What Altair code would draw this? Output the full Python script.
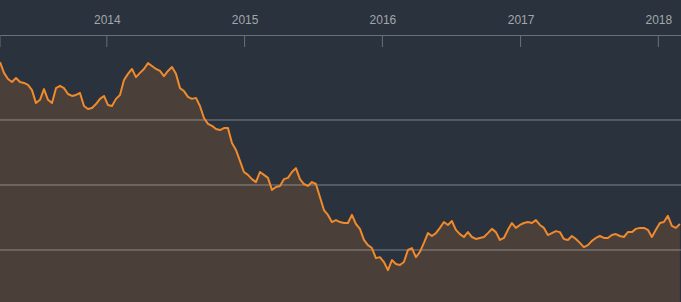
import altair as alt
import pandas as pd

start_date = "2013-03-24"
end_date = "2018-02-27"

values = [
    137.8, 134.5, 132.6, 131.7, 132.9, 131.7, 131.4, 130.8, 129.2, 125.2,
    126.2, 129.5, 126.2, 125.2, 129.8, 130.5, 129.8, 128.0, 127.4, 127.7,
    128.3, 124.3, 123.4, 123.7, 124.9, 126.5, 127.4, 124.6, 124.3, 126.5,
    127.7, 132.3, 134.2, 135.7, 133.2, 134.5, 135.7, 137.5, 136.6, 135.7,
    135.1, 133.5, 135.1, 136.3, 134.2, 129.8, 128.9, 127.1, 126.5, 126.8,
    124.3, 120.6, 118.8, 118.2, 117.2, 116.9, 117.5, 117.5, 112.9, 110.8,
    107.4, 104.0, 103.1, 101.8, 100.9, 104.0, 103.1, 102.2, 98.5, 99.4,
    99.7, 101.8, 102.2, 104.0, 105.2, 101.8, 100.3, 99.7, 100.9, 100.3,
    96.3, 92.3, 90.8, 88.6, 89.2, 88.6, 88.3, 88.3, 90.8, 88.0,
    86.5, 83.1, 81.5, 80.6, 77.5, 77.8, 76.3, 73.8, 76.9, 75.7,
    75.4, 76.3, 80.0, 80.6, 77.8, 79.4, 82.2, 85.2, 84.3, 85.2,
    86.8, 88.6, 87.7, 88.9, 86.2, 84.9, 84.0, 85.5, 84.0, 83.4,
    83.7, 84.0, 85.2, 86.5, 85.5, 83.1, 83.7, 86.2, 88.3, 86.8,
    87.7, 88.3, 88.6, 88.3, 89.2, 87.7, 86.8, 84.6, 85.2, 85.8,
    85.5, 83.4, 83.1, 84.3, 83.4, 82.2, 80.9, 81.5, 82.8, 83.7,
    84.3, 83.7, 83.7, 84.6, 84.9, 84.3, 84.0, 85.5, 85.5, 86.5,
    86.8, 86.8, 86.2, 84.0, 86.2, 88.3, 88.6, 90.5, 87.4, 86.8,
    88.0,
]

grid_values = [80, 100, 120]
year_labels = [2014, 2015, 2016, 2017, 2018]
tick_dates = ["2013-03-24T00:00:00", "2014-01-01T00:00:00", "2015-01-01T00:00:00",
              "2016-01-01T00:00:00", "2017-01-01T00:00:00", "2018-01-01T00:00:00"]

dates = pd.date_range(start_date, end_date, periods=len(values))
df = pd.DataFrame({"date": dates, "value": values})

W, H = 681, 267
BG = "#29323d"
AXIS_COLOR = "#69717a"

xscale = alt.Scale(domain=[alt.DateTime(year=2013, month=3, date=24),
                           alt.DateTime(year=2018, month=3, date=2)])
yscale = alt.Scale(domain=[64, 146.15], zero=False)

base = alt.Chart(df)

area = base.mark_area(color="#4a3f39", clip=True).encode(
    x=alt.X(
        "date:T",
        scale=xscale,
        axis=alt.Axis(
            orient="top",
            values=[alt.DateTime(year=y, month=1, date=1) for y in year_labels],
            format="%Y",
            ticks=False,
            grid=False,
            domainColor=AXIS_COLOR,
            domainWidth=1,
            labelColor="#a3a7ab",
            labelFontSize=12,
            labelFont="Liberation Sans",
            labelPadding=9,
            labelFlush=False,
            title=None,
        ),
    ),
    y=alt.Y("value:Q", scale=yscale, axis=None),
    y2=alt.value(H),
)

grid = alt.Chart(pd.DataFrame({"g": grid_values})).mark_rule(
    color="white", opacity=0.4, strokeWidth=1
).encode(y=alt.Y("g:Q", scale=yscale, axis=None))

line = base.mark_line(color="#f08a2c", strokeWidth=2, strokeJoin="round", clip=True).encode(
    x=alt.X("date:T", scale=xscale),
    y=alt.Y("value:Q", scale=yscale, axis=None),
)

ticks = alt.Chart(pd.DataFrame({"t": tick_dates})).mark_rule(
    color=AXIS_COLOR, strokeWidth=1
).encode(
    x=alt.X("t:T", scale=xscale),
    y=alt.value(0),
    y2=alt.value(12),
)

chart = alt.layer(area, grid, line, ticks).properties(
    width=W,
    height=H,
    padding={"top": 35, "left": 0, "right": 0, "bottom": 0},
    autosize=alt.AutoSizeParams(type="none"),
    background=BG,
).configure_view(stroke=None)

chart.save("out.html", embed_options={"renderer": "svg", "actions": False})
